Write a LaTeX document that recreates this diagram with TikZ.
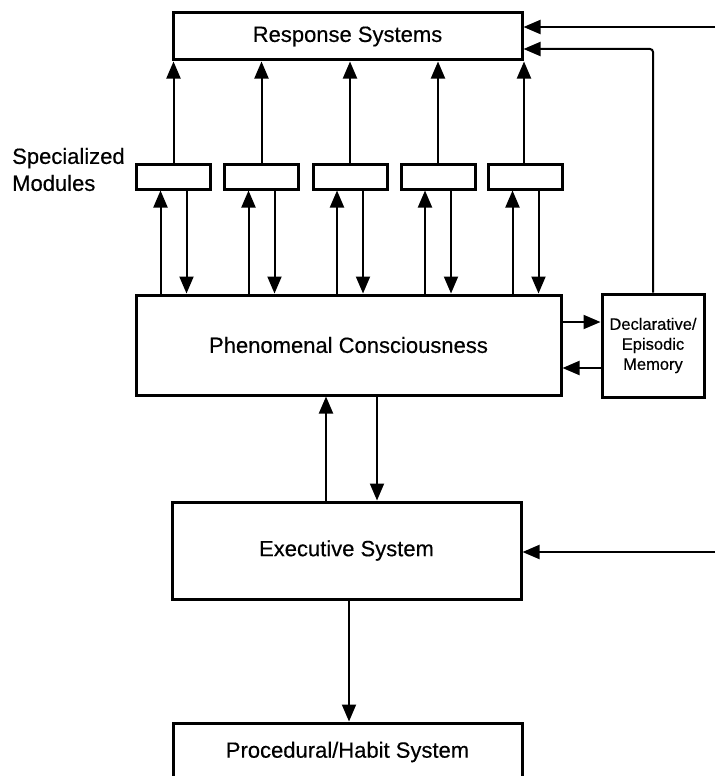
\documentclass[tikz,border=0pt]{standalone}
\usepackage{fontspec}
\setmainfont{Liberation Sans}
\newfontfamily\dfont{Liberation Sans}[FakeBold=0.4]
\usetikzlibrary{arrows.meta}
\begin{document}
\begin{tikzpicture}[x=1pt,y=-1pt,
  box/.style={draw, line width=3pt, inner sep=0pt, font=\dfont\fontsize{22pt}{27pt}\selectfont},
  modbox/.style={draw, line width=3pt, inner sep=0pt, minimum width=74pt, minimum height=25pt},
  arr/.style={line width=2pt, -{Triangle[length=17pt,width=14pt]}},
  lbl/.style={inner sep=0pt, align=left, font=\dfont\fontsize{22pt}{27pt}\selectfont}]
\clip (0,0) rectangle (715,776);
\fill[white] (0,0) rectangle (715,776);
% boxes
\node[box, minimum width=349pt, minimum height=47pt] (resp) at (347.5,36.5) {Response Systems};
\node[modbox] (m1) at (173.5,176.5) {};
\node[modbox] (m2) at (261.5,176.5) {};
\node[modbox] (m3) at (350,176.5) {};
\node[modbox] (m4) at (438,176.5) {};
\node[modbox] (m5) at (525.5,176.5) {};
\node[box, minimum width=425pt, minimum height=100pt] (phen) at (348.5,345) {Phenomenal Consciousness};
\node[box, minimum width=102pt, minimum height=103pt, align=center,
      font=\dfont\fontsize{16.5pt}{20pt}\selectfont] (decl) at (653,345.5) {Declarative/\\Episodic\\Memory};
\node[box, minimum width=349pt, minimum height=97pt] (exec) at (346.5,550.5) {Executive System};
\node[box, minimum width=349pt, minimum height=58pt] (proc) at (347.5,752) {Procedural/Habit System};
\node[lbl, anchor=west] (spec) at (12,169.5) {Specialized\\Modules};
% module -> response
\foreach \i in {1,...,4} {
  \draw[arr] (m\i.north) -- (resp.south -| m\i.north);
}
\coordinate (m5top) at ([xshift=-1.5pt]m5.north);
\draw[arr] (m5top) -- (resp.south -| m5top);
% phenomenal <-> modules
\foreach \i in {1,...,5} {
  \coordinate (u\i) at ([xshift=-13pt]m\i.south);
  \coordinate (d\i) at ([xshift=13pt]m\i.south);
  \draw[arr] (phen.north -| u\i) -- (u\i);
  \draw[arr] (d\i) -- (phen.north -| d\i);
}
% right-side inputs
\coordinate (in1) at (715,27);
\draw[arr] (in1) -- (resp.east |- in1);
\coordinate (rc) at (653,49);
\draw[arr, rounded corners=3pt] (decl.north) |- (resp.east |- rc);
\coordinate (in2) at (715,552);
\draw[arr] (in2) -- (exec.east |- in2);
% phenomenal <-> declarative
\coordinate (h1) at (580,322);
\coordinate (h2) at (580,368);
\draw[arr] (phen.east |- h1) -- (decl.west |- h1);
\draw[arr] (decl.west |- h2) -- (phen.east |- h2);
% phenomenal <-> executive
\coordinate (cu) at (326,450);
\coordinate (cd) at (377,450);
\draw[arr] (exec.north -| cu) -- (phen.south -| cu);
\draw[arr] (phen.south -| cd) -- (exec.north -| cd);
% executive -> procedural
\coordinate (pc) at (349,650);
\draw[arr] (exec.south -| pc) -- (proc.north -| pc);
\end{tikzpicture}
\end{document}
